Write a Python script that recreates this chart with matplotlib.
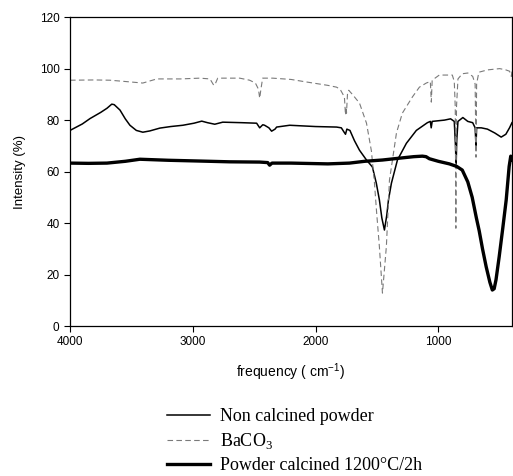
import matplotlib.pyplot as plt

# Non calcined powder
freq_nc = [4000, 3900, 3837, 3750, 3699, 3660, 3640, 3593, 3550, 3512, 3460, 3407,
           3350, 3268, 3180, 3081, 2990, 2927, 2880, 2821, 2756, 2600, 2480, 2455,
           2430, 2415, 2380, 2358, 2330, 2317, 2211, 2000, 1829, 1790, 1770, 1756,
           1745, 1720, 1683, 1642, 1585, 1537, 1505, 1480, 1460, 1439, 1420, 1406,
           1382, 1333, 1260, 1179, 1089, 1065, 1058, 1050, 950, 900, 870, 860, 855,
           850, 840, 800, 760, 720, 700, 693, 688, 650, 600, 540, 488, 450, 420, 400]
int_nc = [76, 78.5, 80.6, 83, 84.6, 86.2, 86, 83.9, 80.5, 78, 76, 75.3,
          75.8, 76.9, 77.5, 78, 78.8, 79.6, 79, 78.4, 79.2, 79, 78.8, 77,
          78.2, 78, 77, 75.7, 76.5, 77.3, 78, 77.5, 77.3, 77, 75.5, 74.5,
          76.5, 76, 72, 68.3, 64.5, 61.8, 55.5, 49, 42, 37.3, 43, 49,
          55.5, 64.5, 71, 76, 79, 79.5, 77, 79.5, 80, 80.5, 79.5, 70, 62,
          72, 79.5, 81, 79.5, 79, 77, 70, 77, 77, 76.5, 75, 73.4, 74.5, 77, 79]

# BaCO3
freq_ba = [4000, 3800, 3675, 3550, 3407, 3293, 3100, 2943, 2860, 2830, 2821, 2797,
           2618, 2537, 2490, 2465, 2455, 2445, 2431, 2350, 2200, 2073, 1900, 1829,
           1800, 1765, 1756, 1750, 1748, 1740, 1730, 1700, 1642, 1585, 1545, 1520,
           1504, 1480, 1455, 1423, 1398, 1382, 1341, 1293, 1211, 1154, 1098, 1065,
           1057, 1050, 992, 886, 870, 862, 857, 852, 840, 805, 760, 720, 700, 693,
           688, 670, 600, 500, 450, 420, 405, 400]
int_ba = [95.5, 95.6, 95.5, 95, 94.4, 96, 96, 96.3, 96, 93.6, 93.6, 96.3,
          96.3, 95.5, 94.4, 92, 88.5, 92, 96.3, 96.3, 95.8, 94.8, 93.5, 92.8,
          92, 89, 82, 85, 82.7, 90, 91.6, 90, 86.6, 78.8, 68, 55.5,
          45, 30.8, 12.8, 31, 56.7, 61.8, 75, 82.7, 89, 92.8, 94.4, 95,
          87, 95.5, 97.5, 97.5, 95, 85, 38, 85, 96, 98, 98.3, 97, 94, 65.6,
          94, 98.6, 99.5, 100, 99.5, 99, 97, 99]

# Powder calcined 1200C/2h
freq_c = [4000, 3850, 3699, 3550, 3431, 3200, 2943, 2700, 2455, 2390, 2374, 2355,
          2200, 1900, 1724, 1600, 1455, 1300, 1200, 1130, 1100, 1073, 1000, 910,
          850, 805, 760, 724, 690, 667, 640, 610, 580, 560, 545, 530, 504, 475,
          447, 423, 410, 400]
int_c = [63.3, 63.2, 63.3, 64, 64.8, 64.4, 64.1, 63.8, 63.7, 63.5, 62.5, 63.3,
         63.3, 63, 63.3, 64, 64.5, 65.3, 65.8, 66, 65.8, 65, 64, 63,
         62, 60.6, 56, 50, 42, 37, 30, 23, 17, 14, 14.5, 18, 27, 38,
         49, 62, 66, 64.5]

plt.rcParams['font.family'] = ['Liberation Sans', 'DejaVu Sans']

fig = plt.figure(figsize=(5.13, 4.76), dpi=100)
ax = fig.add_axes([0.1365, 0.315, 0.8615, 0.649])

l1, = ax.plot(freq_nc, int_nc, color='black', lw=1.1)
l2, = ax.plot(freq_ba, int_ba, color='#7a7a7a', lw=0.8, dashes=(5, 3))
l3, = ax.plot(freq_c, int_c, color='black', lw=2.4)

ax.set_xlim(4000, 400)
ax.set_ylim(0, 120)
ax.set_xticks([4000, 3000, 2000, 1000])
ax.set_yticks([0, 20, 40, 60, 80, 100, 120])
ax.tick_params(direction='out', length=4, width=0.8, labelsize=8.5,
               top=False, right=False)
for s in ax.spines.values():
    s.set_linewidth(0.9)

ax.set_ylabel('Intensity (%)', fontsize=9.5, labelpad=10)
ax.set_xlabel('frequency ( cm$^{\\mathregular{-1}}$)', fontsize=10, labelpad=9)

fig.legend([l1, l2, l3],
           ['Non calcined powder', 'BaCO$_{\\mathregular{3}}$', 'Powder calcined 1200°C/2h'],
           loc='upper left', bbox_to_anchor=(0.3255, 0.143), frameon=False,
           prop={'family': 'Liberation Serif', 'size': 13},
           handlelength=2.4, handletextpad=0.55, labelspacing=0.34,
           borderaxespad=0, borderpad=0)

fig.savefig('out.png', dpi=100)
